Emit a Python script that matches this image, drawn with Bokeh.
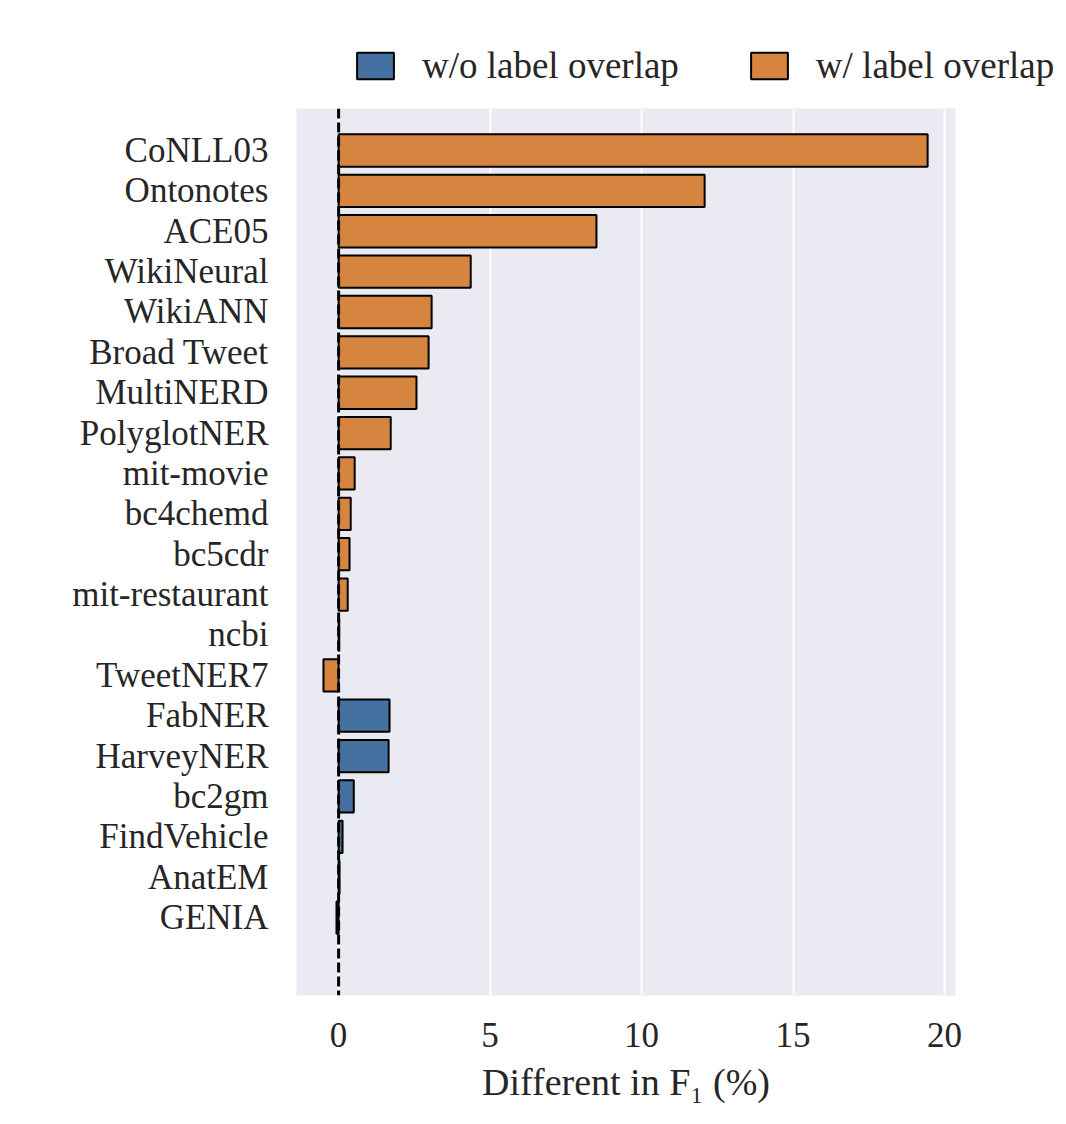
from bokeh.plotting import figure
from bokeh.models import ColumnDataSource, Range1d, FixedTicker, Span, Legend, LegendItem
from bokeh.layouts import column
from bokeh.embed import file_html
from bokeh.resources import INLINE

categories = ["CoNLL03", "Ontonotes", "ACE05", "WikiNeural", "WikiANN", "Broad Tweet",
              "MultiNERD", "PolyglotNER", "mit-movie", "bc4chemd", "bc5cdr", "mit-restaurant",
              "ncbi", "TweetNER7", "FabNER", "HarveyNER", "bc2gm", "FindVehicle", "AnatEM", "GENIA"]
values = [19.44, 12.08, 8.51, 4.36, 3.07, 2.97, 2.57, 1.72, 0.53, 0.40, 0.36, 0.30,
          0.02, -0.50, 1.68, 1.65, 0.50, 0.13, 0.03, -0.07]
groups = ["w/"] * 14 + ["w/o"] * 6
group_order = ["w/o", "w/"]
group_names = {"w/o": "w/o label overlap", "w/": "w/ label overlap"}
group_colors = {"w/o": "#44719f", "w/": "#d5853f"}
x_ticks = [0, 5, 10, 15, 20]

FONT = "Liberation Serif"
TEXT = "#262626"

# ---- main chart ----
p = figure(frame_width=659, frame_height=887, output_backend="svg", toolbar_location=None,
           x_range=Range1d(-1.39, 20.36), y_range=Range1d(20.93, -1.04),
           min_border_left=296, min_border_right=95, min_border_top=8, min_border_bottom=113,
           background_fill_color="#eaeaf2", border_fill_color="white")
p.outline_line_color = None

for g in group_order:
    idx = [i for i, gg in enumerate(groups) if gg == g]
    src = ColumnDataSource(dict(y=idx, v=[values[i] for i in idx]))
    p.hbar(y="y", left=0, right="v", height=0.8, source=src,
           fill_color=group_colors[g], line_color="black", line_width=2)

p.add_layout(Span(location=0, dimension="height", line_color="black",
                  line_width=3, line_dash="10 4"))

p.ygrid.grid_line_color = None
p.xgrid.grid_line_color = "white"
p.xgrid.grid_line_width = 2
p.xgrid.ticker = FixedTicker(ticks=x_ticks)

p.xaxis.ticker = FixedTicker(ticks=x_ticks)
p.yaxis.ticker = FixedTicker(ticks=list(range(len(categories))))
p.yaxis.major_label_overrides = {i: c for i, c in enumerate(categories)}
for ax in (p.xaxis[0], p.yaxis[0]):
    ax.axis_line_color = None
    ax.major_tick_line_color = None
    ax.minor_tick_line_color = None
    ax.major_tick_out = 0
    ax.major_tick_in = 0
    ax.major_label_text_font = FONT
    ax.major_label_text_font_size = "35px"
    ax.major_label_text_color = TEXT
p.yaxis.major_label_standoff = 28
p.xaxis.major_label_standoff = 27
p.xaxis.axis_label = "Different in F\u2081 (%)"
p.xaxis.axis_label_text_font = FONT
p.xaxis.axis_label_text_font_size = "38px"
p.xaxis.axis_label_text_font_style = "normal"
p.xaxis.axis_label_text_color = TEXT
p.xaxis.axis_label_standoff = 11

# ---- legend strip above ----
lg = figure(frame_width=1058, frame_height=100, output_backend="svg", toolbar_location=None,
            x_range=Range1d(0, 1), y_range=Range1d(0, 1),
            min_border_left=0, min_border_right=0, min_border_top=0, min_border_bottom=0)
lg.axis.visible = False
lg.grid.visible = False
lg.outline_line_color = None
items = []
for g in group_order:
    # placeholder glyph outside the visible range, only used for the legend swatch
    r = lg.hbar(y=[10], left=[10], right=[11], height=0.8,
                fill_color=group_colors[g], line_color="black", line_width=2)
    items.append(LegendItem(label=group_names[g], renderers=[r]))
legend = Legend(items=items, orientation="horizontal", location=(352, 13),
                glyph_width=46, glyph_height=33, label_standoff=24, spacing=67,
                padding=0, margin=0, border_line_color=None, background_fill_alpha=0,
                label_text_font=FONT, label_text_font_size="37px", label_text_color=TEXT)
lg.add_layout(legend, "center")

layout = column(lg, p, spacing=0)
open("out.html", "w").write(file_html(layout, INLINE))
